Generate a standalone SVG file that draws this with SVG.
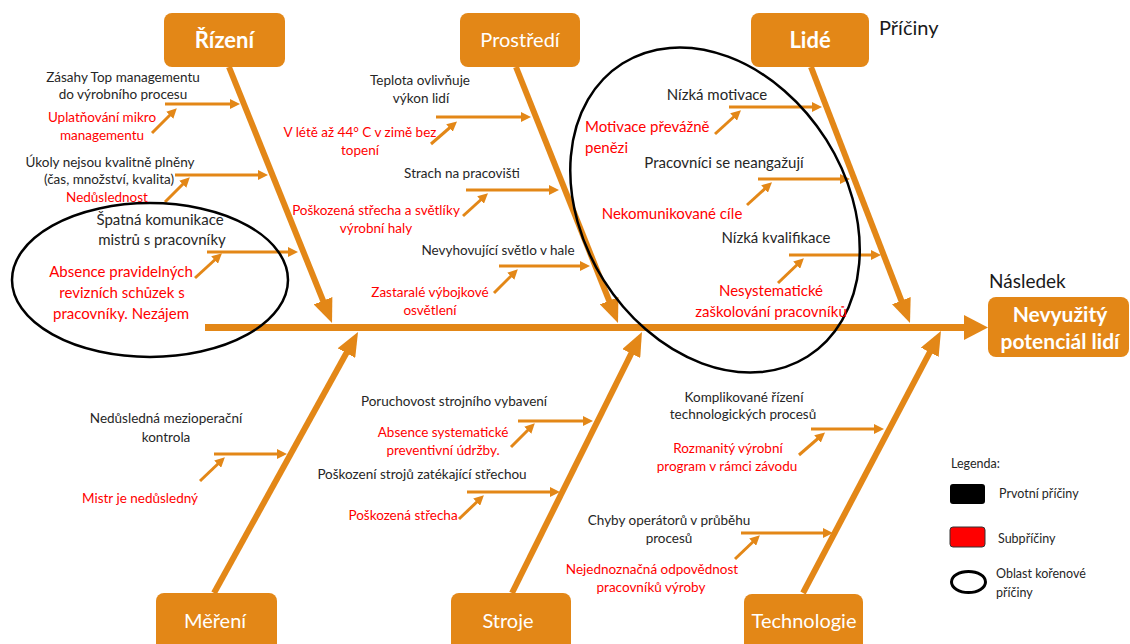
<svg xmlns="http://www.w3.org/2000/svg" width="1130" height="644" viewBox="0 0 1130 644">
<style>
  text { font-family: Lato, "Liberation Sans", sans-serif; }
  .box { fill: #E38717; }
  .bl { fill: #ffffff; font-size: 20px; text-anchor: middle; }
  .blb { fill: #ffffff; font-size: 22px; font-weight: bold; text-anchor: middle; }
  .k { fill: #262626; font-size: 13.5px; text-anchor: middle; }
  .kb { fill: #262626; font-size: 15px; text-anchor: middle; }
  .r { fill: #FF0000; font-size: 13.5px; text-anchor: middle; }
  .rb { fill: #FF0000; font-size: 15px; text-anchor: middle; }
  .rbs { fill: #FF0000; font-size: 15px; text-anchor: start; }
  .bone { stroke: #E38717; stroke-width: 6; fill: none; marker-end: url(#ba); }
  .sub { stroke: #E38717; stroke-width: 3; fill: none; marker-end: url(#sa); }
  .oval { fill: none; stroke: #000; stroke-width: 2.5; }
  .lg { fill: #262626; font-size: 12.5px; }
</style>
<defs>
  <marker id="ba" markerUnits="userSpaceOnUse" markerWidth="24" markerHeight="20" refX="14" refY="10" orient="auto" viewBox="0 0 24 20">
    <path d="M0,0 L24,10 L0,20 z" fill="#E38717"/>
  </marker>
  <marker id="sa" markerUnits="userSpaceOnUse" markerWidth="10" markerHeight="10" refX="6" refY="5" orient="auto" viewBox="0 0 10 10">
    <path d="M0,0 L10,5 L0,10 z" fill="#E38717"/>
  </marker>
</defs>
<rect width="1130" height="644" fill="#ffffff"/>

<g id="connectors">
  <line x1="205" y1="327.5" x2="968" y2="327.5" stroke="#E38717" stroke-width="7"/>
  <polygon points="964,315 988,327.5 964,340" fill="#E38717"/>
  <line class="bone" x1="229" y1="67" x2="328.3" y2="313.7"/>
  <line class="bone" x1="516" y1="67" x2="614.3" y2="313.7"/>
  <line class="bone" x1="811" y1="67" x2="906.4" y2="313.7"/>
  <line class="bone" x1="214" y1="593" x2="353.2" y2="340.8"/>
  <line class="bone" x1="512" y1="593" x2="637.5" y2="341"/>
  <line class="bone" x1="803" y1="593" x2="936.3" y2="339.9"/>
  <line class="sub" x1="165" y1="104" x2="236" y2="104"/>
  <line class="sub" x1="175" y1="175" x2="264" y2="175"/>
  <line class="sub" x1="207" y1="252" x2="294" y2="252"/>
  <line class="sub" x1="436" y1="117" x2="527" y2="117"/>
  <line class="sub" x1="466" y1="190" x2="555" y2="190"/>
  <line class="sub" x1="499" y1="266" x2="586" y2="266"/>
  <line class="sub" x1="729" y1="107" x2="818" y2="107"/>
  <line class="sub" x1="758" y1="179" x2="846" y2="179"/>
  <line class="sub" x1="789" y1="255" x2="877" y2="255"/>
  <line class="sub" x1="214" y1="454" x2="283" y2="454"/>
  <line class="sub" x1="518" y1="421" x2="589" y2="421"/>
  <line class="sub" x1="467" y1="492" x2="556" y2="492"/>
  <line class="sub" x1="811" y1="429" x2="880" y2="429"/>
  <line class="sub" x1="741" y1="533" x2="829" y2="533"/>
  <line class="sub" x1="152" y1="133" x2="174" y2="111"/>
  <line class="sub" x1="165" y1="202" x2="187" y2="180"/>
  <line class="sub" x1="195" y1="278" x2="219" y2="256"/>
  <line class="sub" x1="431" y1="144" x2="454" y2="124"/>
  <line class="sub" x1="463" y1="216" x2="485" y2="196"/>
  <line class="sub" x1="494" y1="293" x2="515" y2="272"/>
  <line class="sub" x1="715" y1="134" x2="738" y2="113"/>
  <line class="sub" x1="747" y1="205" x2="769" y2="185"/>
  <line class="sub" x1="778" y1="283" x2="801" y2="261"/>
  <line class="sub" x1="200" y1="481" x2="222" y2="460"/>
  <line class="sub" x1="511" y1="447" x2="532" y2="426"/>
  <line class="sub" x1="459" y1="519" x2="481" y2="498"/>
  <line class="sub" x1="799" y1="455" x2="822" y2="435"/>
  <line class="sub" x1="735" y1="559" x2="757" y2="538"/>
</g>

<g id="root-cause-areas">
  <ellipse class="oval" cx="150" cy="280" rx="138" ry="77"/>
  <ellipse class="oval" cx="715" cy="210" rx="131.6" ry="173.3" transform="rotate(-32.3 715 210)"/>
</g>

<g id="node-rizeni">
  <rect class="box" x="164" y="13" width="121" height="54" rx="8"/>
  <text class="blb" x="224.5" y="48">Řízení</text>
</g>
<g id="node-prostredi">
  <rect class="box" x="460" y="13" width="120" height="54" rx="8"/>
  <text class="bl" x="520" y="47">Prostředí</text>
</g>
<g id="node-lide">
  <rect class="box" x="751" y="13" width="118" height="54" rx="8"/>
  <text class="blb" x="810" y="48">Lidé</text>
</g>
<g id="node-mereni">
  <rect class="box" x="156" y="593" width="121" height="60" rx="8"/>
  <text class="bl" x="215" y="628">Měření</text>
</g>
<g id="node-stroje">
  <rect class="box" x="451" y="593" width="120" height="60" rx="8"/>
  <text class="bl" x="508" y="628">Stroje</text>
</g>
<g id="node-technologie">
  <rect class="box" x="744" y="594" width="119" height="60" rx="8"/>
  <text class="bl" x="804" y="628">Technologie</text>
</g>
<g id="node-effect">
  <rect class="box" x="988" y="297" width="141" height="60" rx="8"/>
  <text fill="#ffffff" font-size="21" font-weight="bold" text-anchor="middle" x="1060" y="322">Nevyužitý</text>
  <text fill="#ffffff" font-size="21" font-weight="bold" text-anchor="middle" x="1060" y="349">potenciál lidí</text>
</g>
<g id="headers">
  <text x="879" y="35" fill="#1a1a1a" font-size="20">Příčiny</text>
  <text x="989" y="288" fill="#1a1a1a" font-size="19">Následek</text>
</g>

<g id="causes-rizeni">
  <text class="k" x="123" y="82">Zásahy Top managementu</text>
  <text class="k" x="123" y="99">do výrobního procesu</text>
  <text class="r" x="102" y="122">Uplatňování mikro</text>
  <text class="r" x="102" y="140">managementu</text>
  <text class="k" x="110" y="167">Úkoly nejsou kvalitně plněny</text>
  <text class="k" x="109" y="184">(čas, množství, kvalita)</text>
  <text class="r" x="107" y="202">Nedůslednost</text>
  <text class="kb" x="160" y="225">Špatná komunikace</text>
  <text class="kb" x="162" y="245">mistrů s pracovníky</text>
  <text class="rb" x="121" y="277">Absence pravidelných</text>
  <text class="rb" x="122" y="298">revizních schůzek s</text>
  <text class="rb" x="121" y="319">pracovníky. Nezájem</text>
</g>
<g id="causes-prostredi">
  <text class="k" x="420" y="85">Teplota ovlivňuje</text>
  <text class="k" x="421" y="103">výkon lidí</text>
  <text class="r" x="360" y="137">V létě až 44° C v zimě bez</text>
  <text class="r" x="360" y="155">topení</text>
  <text class="k" x="462" y="178">Strach na pracovišti</text>
  <text class="r" x="376" y="215">Poškozená střecha a světlíky</text>
  <text class="r" x="376" y="233">výrobní haly</text>
  <text class="k" x="498" y="255">Nevyhovující světlo v hale</text>
  <text class="r" x="430" y="297">Zastaralé výbojkové</text>
  <text class="r" x="430" y="315">osvětlení</text>
</g>
<g id="causes-lide">
  <text class="kb" x="717" y="100">Nízká motivace</text>
  <text class="rbs" x="585" y="132">Motivace převážně</text>
  <text class="rbs" x="585" y="153">penězi</text>
  <text class="kb" x="724" y="168">Pracovníci se neangažují</text>
  <text class="rb" x="672" y="219">Nekomunikované cíle</text>
  <text class="kb" x="776" y="243">Nízká kvalifikace</text>
  <text class="rb" x="771" y="296">Nesystematické</text>
  <text class="rb" x="771" y="317">zaškolování pracovníků</text>
</g>
<g id="causes-mereni">
  <text class="k" x="166" y="423">Nedůsledná mezioperační</text>
  <text class="k" x="166" y="442">kontrola</text>
  <text class="r" x="140" y="503">Mistr je nedůsledný</text>
</g>
<g id="causes-stroje">
  <text class="k" x="454" y="406">Poruchovost strojního vybavení</text>
  <text class="r" x="443" y="437">Absence systematické</text>
  <text class="r" x="443" y="455">preventivní údržby.</text>
  <text class="k" x="422" y="479">Poškození strojů zatékající střechou</text>
  <text class="r" x="403" y="520">Poškozená střecha</text>
</g>
<g id="causes-technologie">
  <text class="k" x="744" y="402">Komplikované řízení</text>
  <text class="k" x="743" y="419">technologických procesů</text>
  <text class="r" x="728" y="453">Rozmanitý výrobní</text>
  <text class="r" x="727" y="471">program v rámci závodu</text>
  <text class="k" x="669" y="525">Chyby operátorů v průběhu</text>
  <text class="k" x="669" y="543">procesů</text>
  <text class="r" x="652" y="574">Nejednoznačná odpovědnost</text>
  <text class="r" x="651" y="592">pracovníků výroby</text>
</g>

<g id="legend">
  <text class="lg" x="951" y="468">Legenda:</text>
  <rect x="950" y="484" width="35" height="20" rx="3" fill="#000000"/>
  <text class="lg" x="999" y="498">Prvotní příčiny</text>
  <rect x="950" y="527" width="35" height="20" rx="3" fill="#FF0000" stroke="#333333" stroke-width="1"/>
  <text class="lg" x="998" y="543">Subpříčiny</text>
  <ellipse cx="968.5" cy="582" rx="17" ry="10.5" fill="none" stroke="#000000" stroke-width="3"/>
  <text class="lg" x="996" y="578">Oblast kořenové</text>
  <text class="lg" x="996" y="597">příčiny</text>
</g>
</svg>
